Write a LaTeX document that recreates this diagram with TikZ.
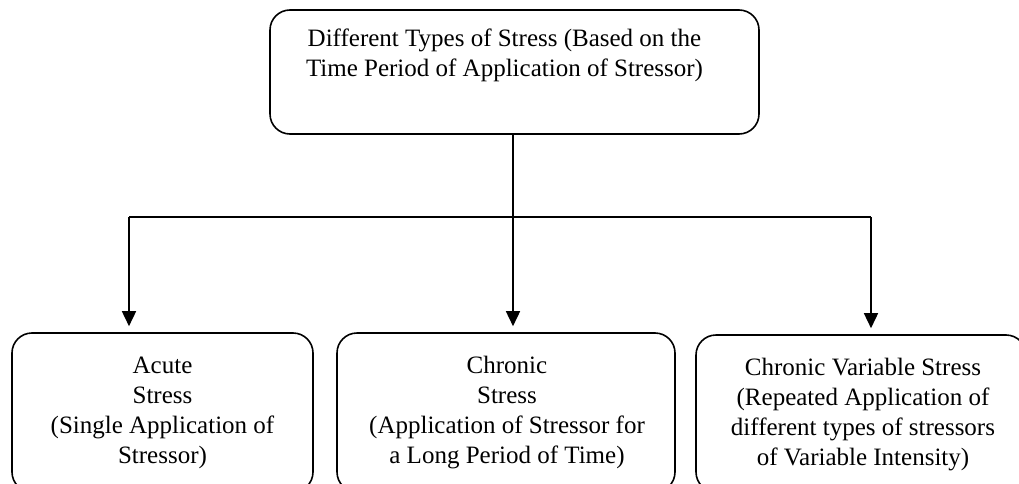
\documentclass[tikz,border=0pt]{standalone}
\usepackage{fontspec}
\setmainfont{Liberation Serif}
\usetikzlibrary{arrows.meta}
\tikzset{
  box/.style={draw=black, line width=1.6pt, rounded corners=20pt, inner sep=0pt},
  txt/.style={inner sep=0pt, anchor=base, font=\fontsize{25}{30}\selectfont},
  conn/.style={draw=black, line width=1.6pt},
  arr/.style={conn, -{Triangle[length=15pt,width=14pt]}, shorten >=6pt}
}
\newcommand{\lines}[1]{\begin{tabular}[t]{@{}c@{}}#1\end{tabular}}
\begin{document}
\begin{tikzpicture}[x=1pt,y=-1pt]
\useasboundingbox (0,0) rectangle (1019,484);
\clip (0,0) rectangle (1019,484);
% boxes
\node[box, minimum width=489pt, minimum height=124pt] (top) at (514.5,72) {};
\node[box, minimum width=301pt, minimum height=159pt] (left) at (162.5,412.5) {};
\node[box, minimum width=338pt, minimum height=159pt] (mid) at (506,412.5) {};
\node[box, minimum width=330pt, minimum height=157pt] (right) at (861,413.5) {};
% texts
\node[txt] (ttop) at (504.5,47) {\lines{Different Types of Stress (Based on the\\Time Period of Application of Stressor)}};
\node[txt] (tleft) at (162.5,373) {\lines{Acute\\Stress\\(Single Application of\\Stressor)}};
\node[txt] (tmid) at (507,373) {\lines{Chronic\\Stress\\(Application of Stressor for\\a Long Period of Time)}};
\node[txt] (tright) at (863,375) {\lines{Chronic Variable Stress\\(Repeated Application of\\different types of stressors\\of Variable Intensity)}};
% connectors
\coordinate (jl) at (129,217);
\coordinate (jm) at (513,217);
\coordinate (jr) at (871,217);
\draw[conn] (jl) -- (jr);
\draw[arr] (top.south -| jm) -- (jm |- mid.north);
\draw[arr] (jl) -- (jl |- left.north);
\draw[arr] (jr) -- (jr |- right.north);
\end{tikzpicture}
\end{document}
